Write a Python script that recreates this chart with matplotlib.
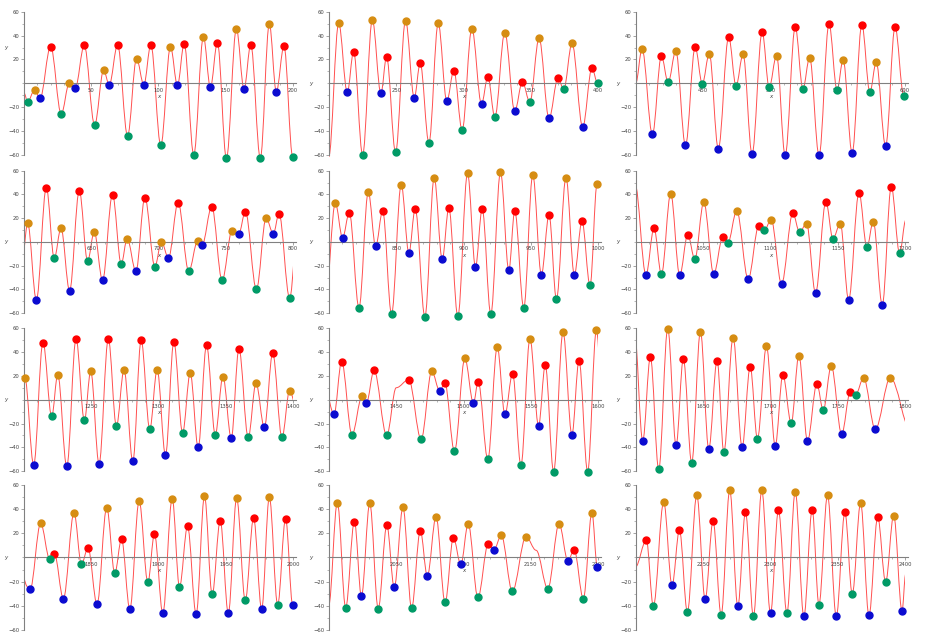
import matplotlib.pyplot as plt
from matplotlib.path import Path
from matplotlib.patches import PathPatch
from matplotlib.ticker import FixedLocator, MultipleLocator

# extrema, one list pair per dot colour
red_x = [19.8, 44.8, 69.6, 94.3, 119.1, 143.8, 168.6, 193.3,
         218.3, 242.8, 267.8, 292.8, 318.1, 343.8, 370.3, 395.5,
         418.9, 444.0, 468.9, 493.8, 518.4, 543.5, 567.9, 592.6,
         616.6, 641.1, 665.8, 689.9, 714.6, 739.6, 764.6, 789.6,
         815.1, 839.9, 864.1, 889.1, 913.9, 938.1, 963.6, 988.1,
         1013.4, 1038.5, 1064.5, 1091.3, 1116.6, 1141.2, 1165.8, 1189.8,
         1214.1, 1238.7, 1262.7, 1287.1, 1311.4, 1335.7, 1359.8, 1384.9,
         1409.4, 1433.5, 1459.3, 1486.1, 1510.9, 1536.5, 1560.8, 1585.9,
         1610.7, 1635.2, 1660.3, 1684.9, 1709.2, 1734.5, 1759.3,
         1822.6, 1847.6, 1872.5, 1897.0, 1921.6, 1945.9, 1970.7, 1994.5,
         2018.9, 2043.0, 2067.9, 2092.5, 2118.4, 2182.3,
         2207.7, 2232.3, 2257.3, 2281.4, 2305.9, 2331.0, 2355.3, 2379.7]
red_y = [30.8, 31.7, 32.2, 32.2, 33.3, 34.2, 32.5, 31.1,
         26.5, 22.1, 16.8, 10.6, 5.3, 1.1, 4.5, 12.6,
         22.9, 30.4, 38.8, 43.0, 47.2, 49.7, 49.2, 47.2,
         45.7, 43.1, 39.8, 37.3, 33.1, 29.7, 25.5, 23.8,
         24.6, 26.0, 27.9, 28.5, 27.7, 26.0, 22.6, 17.3,
         11.5, 6.2, 3.9, 13.4, 24.1, 33.9, 41.5, 46.5,
         47.8, 50.8, 50.8, 49.7, 48.3, 45.5, 42.5, 38.8,
         31.8, 24.5, 16.7, 14.2, 15.0, 21.7, 28.7, 32.6,
         35.5, 34.1, 32.7, 27.4, 20.7, 13.1, 6.1,
         3.0, 7.8, 15.2, 19.4, 25.8, 30.5, 32.7, 32.1,
         29.9, 26.6, 22.2, 16.3, 11.1, 6.1,
         14.4, 22.7, 30.2, 37.7, 39.1, 39.6, 37.4, 33.5]

orange_x = [7.9, 33.7, 59.2, 83.7, 108.9, 133.4, 157.9, 182.4,
            207.2, 232.2, 256.9, 281.2, 306.2, 330.7, 356.2, 380.7,
            404.5, 429.6, 454.5, 479.6, 504.5, 529.1, 554.0, 578.6,
            602.7, 627.5, 652.2, 676.7, 702.2, 729.2, 754.7, 780.0,
            804.7, 829.2, 853.7, 878.2, 903.0, 927.5, 951.5, 976.2, 999.3,
            1025.8, 1050.4, 1074.9, 1100.5, 1126.8, 1151.9, 1176.4,
            1200.6, 1225.1, 1249.6, 1274.4, 1299.0, 1323.6, 1347.9, 1372.5, 1397.5,
            1424.6, 1476.4, 1501.0, 1525.1, 1549.4, 1574.0, 1598.8,
            1623.6, 1647.9, 1672.2, 1697.0, 1721.1, 1745.2, 1769.2, 1789.1,
            1812.4, 1837.2, 1861.5, 1885.6, 1910.2, 1934.2, 1958.1, 1982.4,
            2006.2, 2030.3, 2055.0, 2079.6, 2103.5, 2128.1, 2146.5, 2171.1, 2195.5,
            2220.6, 2245.2, 2269.7, 2293.5, 2318.4, 2342.4, 2367.0, 2391.6]
orange_y = [-5.6, 0.3, 10.8, 20.6, 30.6, 38.9, 45.6, 49.7,
            50.3, 53.1, 52.5, 50.3, 45.8, 42.5, 37.7, 33.5,
            28.8, 27.1, 24.9, 24.3, 23.2, 21.5, 19.8, 17.6,
            15.7, 11.5, 8.4, 2.8, 0.0, 1.1, 9.5, 19.9,
            32.7, 41.9, 48.3, 53.9, 57.8, 58.7, 56.4, 54.2, 48.6,
            40.6, 33.3, 26.1, 18.8, 15.4, 15.4, 17.1,
            18.4, 20.9, 23.7, 24.9, 24.9, 22.1, 19.3, 13.7, 7.5,
            2.8, 23.7, 34.5, 44.0, 51.0, 56.5, 57.9,
            59.5, 57.0, 52.0, 44.7, 36.9, 28.2, 18.2, 18.2,
            28.3, 37.1, 41.3, 46.8, 49.0, 51.0, 49.3, 50.1,
            45.7, 44.9, 41.6, 33.8, 28.0, 18.3, 17.2, 28.0, 37.1,
            46.0, 51.8, 56.0, 55.7, 54.8, 51.8, 45.2, 34.9]

blue_x = [11.9, 38.1, 63.4, 89.1, 114.1, 138.6, 163.6, 187.6,
          213.6, 238.6, 263.4, 287.6, 313.4, 338.1, 363.6, 388.6,
          412.2, 436.8, 461.2, 486.3, 510.9, 536.1, 560.7, 585.6,
          609.2, 633.9, 658.4, 683.2, 707.4, 732.4, 759.7, 785.4,
          810.1, 834.7, 859.4, 884.2, 908.9, 933.7, 957.9, 982.4,
          1007.4, 1032.5, 1057.8, 1083.4, 1108.2, 1133.5, 1158.1, 1183.1,
          1207.2, 1231.8, 1255.8, 1280.9, 1305.2, 1329.5, 1354.1, 1378.7,
          1403.7, 1427.8, 1482.4, 1507.4, 1530.8, 1555.8, 1580.6,
          1605.0, 1629.8, 1654.1, 1678.9, 1703.5, 1727.5, 1752.9, 1777.9,
          1804.5, 1829.3, 1854.3, 1878.7, 1903.2, 1928.0, 1951.9, 1976.7, 1999.8,
          2024.1, 2048.5, 2073.1, 2098.0, 2122.6, 2177.6, 2199.5,
          2226.8, 2251.4, 2275.7, 2300.0, 2324.8, 2348.9, 2373.2, 2397.8]
blue_y = [-12.5, -3.9, -1.1, -1.1, -1.7, -3.3, -4.7, -6.9,
          -7.5, -8.4, -12.0, -14.8, -17.3, -23.2, -29.3, -36.6,
          -42.7, -52.0, -54.7, -59.2, -60.3, -60.3, -58.4, -52.5,
          -48.7, -40.9, -32.2, -24.6, -13.4, -2.5, 7.0, 7.0,
          3.6, -3.6, -9.2, -14.5, -20.9, -23.7, -27.4, -27.4,
          -27.5, -28.0, -26.9, -31.1, -35.3, -42.9, -48.7, -52.9,
          -54.5, -55.9, -53.6, -51.7, -46.4, -39.9, -32.1, -23.2,
          -12.3, -2.8, 7.2, -2.8, -12.3, -21.7, -29.2,
          -34.4, -38.3, -41.3, -39.7, -38.5, -34.4, -28.8, -24.6,
          -26.6, -34.1, -38.8, -42.9, -46.3, -47.1, -46.3, -42.9, -39.6,
          -32.1, -24.7, -15.2, -5.8, 6.4, -2.5, -8.0,
          -23.0, -34.6, -40.7, -46.3, -49.0, -49.0, -48.2, -44.3]

green_x = [2.7, 27.7, 52.5, 77.0, 101.7, 126.2, 150.5, 175.7, 199.8,
           225.0, 249.5, 274.3, 299.0, 323.3, 349.3, 374.5, 399.8,
           423.9, 449.3, 474.4, 499.0, 524.1, 549.5, 573.9, 599.1,
           622.5, 647.3, 672.3, 697.3, 722.5, 747.3, 772.8, 797.5,
           822.3, 846.5, 871.3, 895.8, 920.3, 944.8, 969.1, 994.1,
           1018.9, 1043.7, 1068.2, 1095.5, 1121.6, 1146.4, 1171.7, 1196.0,
           1220.6, 1244.9, 1268.7, 1293.5, 1317.9, 1342.2, 1366.7, 1391.8,
           1417.1, 1442.9, 1468.5, 1493.3, 1518.1, 1542.7, 1567.0, 1592.3,
           1616.9, 1641.4, 1665.3, 1690.3, 1715.4, 1739.2, 1763.3,
           1819.1, 1842.7, 1867.5, 1892.1, 1915.6, 1939.9, 1964.5, 1988.6,
           2012.4, 2036.6, 2061.4, 2086.3, 2110.7, 2136.3, 2162.7, 2189.1,
           2212.9, 2238.2, 2263.3, 2287.3, 2312.2, 2336.0, 2360.8, 2385.6]
green_y = [-15.3, -25.6, -34.7, -43.9, -51.9, -59.7, -62.8, -62.5, -61.4,
           -59.8, -57.8, -49.7, -39.1, -28.2, -15.6, -5.0, 0.0,
           0.8, -0.3, -2.0, -3.4, -4.5, -5.6, -7.3, -10.3,
           -13.7, -16.0, -18.5, -20.7, -24.6, -32.2, -39.8, -47.1,
           -55.3, -60.6, -62.8, -62.6, -60.6, -55.3, -48.0, -36.6,
           -27.2, -14.3, -1.1, 10.1, 8.4, 2.8, -4.5, -9.5,
           -14.0, -17.3, -22.1, -24.6, -27.7, -29.3, -31.6, -31.6,
           -29.2, -29.8, -33.1, -43.2, -49.9, -54.9, -60.2, -60.2,
           -58.4, -52.8, -43.9, -32.7, -19.6, -8.7, 4.2,
           -1.1, -5.5, -13.0, -20.5, -24.4, -30.7, -35.7, -39.3,
           -41.6, -42.4, -42.1, -37.4, -33.2, -28.0, -25.8, -34.1,
           -40.4, -45.2, -47.6, -49.0, -46.3, -39.1, -30.2, -20.2]

# curve points with no dot (ends and two shoulders)
knot_x = [0.0, 1450.0, 2154.0, 2400.5]
knot_y = [-8.0, 10.0, 6.0, -14.0]

panel_lo = [0, 200, 400, 600, 800, 1000, 1200, 1400, 1600, 1800, 2000, 2200]

series = [(red_x, red_y, '#ff0000'), (orange_x, orange_y, '#d68d12'),
          (blue_x, blue_y, '#0b0bd0'), (green_x, green_y, '#009a66')]

# smooth curve through all extrema (flat tangent at each one)
pts = sorted(zip(red_x + orange_x + blue_x + green_x + knot_x,
                 red_y + orange_y + blue_y + green_y + knot_y))
verts = [pts[0]]
codes = [Path.MOVETO]
for (x0, y0), (x1, y1) in zip(pts[:-1], pts[1:]):
    d = x1 - x0
    verts += [(x0 + 0.36 * d, y0), (x1 - 0.36 * d, y1), (x1, y1)]
    codes += [Path.CURVE4] * 3
curve = Path(verts, codes)

W, H = 931, 639
col_left = [24, 329, 636]
row_top = [9.3, 168.3, 325.6, 482.9]
row_bot = [161.0, 319.2, 477.3, 635.7]

fig = plt.figure(figsize=(W / 100, H / 100), dpi=100)

for i, lo in enumerate(panel_lo):
    hi = lo + 200
    r, c = divmod(i, 3)
    ax = fig.add_axes([col_left[c] / W, 1 - row_bot[r] / H,
                       269 / W, (row_bot[r] - row_top[r]) / H])
    ax.set_xlim(lo, hi)
    ax.set_ylim(-65, 62)

    ax.add_patch(PathPatch(curve, fill=False, ec='#ff3030', lw=0.7, alpha=0.85))
    for xs, ys, col in series:
        sel = [(x, y) for x, y in zip(xs, ys) if lo < x <= hi]
        ax.plot([p[0] for p in sel], [p[1] for p in sel], 'o', color=col,
                ms=5, mec=col, clip_on=False, zorder=3)

    for s in ['top', 'right']:
        ax.spines[s].set_visible(False)
    ax.spines['left'].set_bounds(-60, 60)
    ax.spines['bottom'].set_position(('data', 0))
    ax.spines['bottom'].set_bounds(lo, hi + 2.5)
    for s in ['left', 'bottom']:
        ax.spines[s].set_color('#808080')
        ax.spines[s].set_linewidth(0.8)

    ax.xaxis.set_major_locator(FixedLocator([lo + 50, lo + 100, lo + 150, hi]))
    ax.xaxis.set_minor_locator(MultipleLocator(10))
    ax.yaxis.set_major_locator(FixedLocator([-60, -40, -20, 20, 40, 60]))
    ax.yaxis.set_minor_locator(MultipleLocator(10))
    ax.tick_params(which='both', colors='#808080', labelcolor='#444444',
                   labelsize=3.8, pad=1)
    ax.tick_params(which='major', length=2, width=0.5)
    ax.tick_params(which='minor', length=1.2, width=0.4)

    ax.text(lo + 100, -11, 'x', fontsize=4, style='italic', color='#444444',
            ha='center', va='center')
    ax.text(-0.066, 30 if i == 0 else 0, 'y', fontsize=4, style='italic',
            color='#444444', ha='center', va='center',
            transform=ax.get_yaxis_transform())

plt.savefig('out.png', dpi=100, facecolor='white')
